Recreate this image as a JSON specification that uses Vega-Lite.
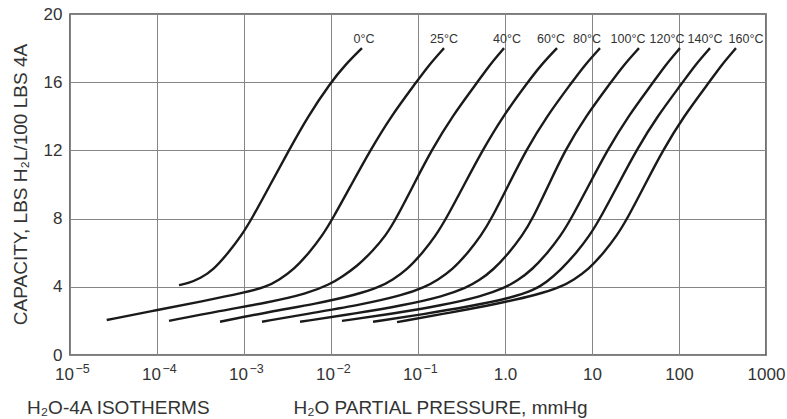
{
  "$schema": "https://vega.github.io/schema/vega-lite/v6.json",
  "width": 696,
  "height": 341,
  "autosize": {"type": "none"},
  "padding": {"left": 70, "top": 14, "right": 21, "bottom": 64},
  "background": "white",
  "config": {
    "font": "Liberation Sans",
    "view": {"stroke": "#505050", "strokeWidth": 1.6},
    "axis": {
      "domain": false,
      "ticks": false,
      "gridColor": "#858585",
      "gridWidth": 1,
      "labelColor": "#333333",
      "titleColor": "#333333",
      "labelFont": "Liberation Sans",
      "titleFont": "Liberation Sans",
      "titleFontWeight": "normal",
      "labelFontSize": 17,
      "titleFontSize": 19,
      "labelOverlap": false
    }
  },
  "title": {
    "text": "H₂O-4A ISOTHERMS",
    "orient": "bottom",
    "anchor": "start",
    "frame": "group",
    "offset": 0,
    "dx": -43,
    "dy": -18,
    "fontSize": 19,
    "fontWeight": "normal",
    "color": "#333333",
    "font": "Liberation Sans"
  },
  "datasets": {
    "isotherms": [
      {"T": "0°C", "p": 0.0001791, "c": 4.1},
      {"T": "0°C", "p": 0.0002239, "c": 4.2},
      {"T": "0°C", "p": 0.0003162, "c": 4.5},
      {"T": "0°C", "p": 0.0004467, "c": 5.0},
      {"T": "0°C", "p": 0.0006607, "c": 6.0},
      {"T": "0°C", "p": 0.0009333, "c": 7.0},
      {"T": "0°C", "p": 0.001233, "c": 8.0},
      {"T": "0°C", "p": 0.002009, "c": 10.0},
      {"T": "0°C", "p": 0.003281, "c": 12.0},
      {"T": "0°C", "p": 0.00542, "c": 14.0},
      {"T": "0°C", "p": 0.01, "c": 16.0},
      {"T": "0°C", "p": 0.01445, "c": 17.0},
      {"T": "0°C", "p": 0.0227, "c": 18.0},

      {"T": "25°C", "p": 0.00002642, "c": 2.05},
      {"T": "25°C", "p": 0.0001, "c": 2.64},
      {"T": "25°C", "p": 0.0003311, "c": 3.15},
      {"T": "25°C", "p": 0.001, "c": 3.65},
      {"T": "25°C", "p": 0.00182, "c": 4.0},
      {"T": "25°C", "p": 0.002512, "c": 4.4},
      {"T": "25°C", "p": 0.003715, "c": 5.0},
      {"T": "25°C", "p": 0.005623, "c": 6.0},
      {"T": "25°C", "p": 0.007943, "c": 7.0},
      {"T": "25°C", "p": 0.010471, "c": 8.0},
      {"T": "25°C", "p": 0.017179, "c": 10.0},
      {"T": "25°C", "p": 0.028249, "c": 12.0},
      {"T": "25°C", "p": 0.048865, "c": 14.0},
      {"T": "25°C", "p": 0.095499, "c": 16.0},
      {"T": "25°C", "p": 0.13305, "c": 17.0},
      {"T": "25°C", "p": 0.19907, "c": 18.0},

      {"T": "40°C", "p": 0.0001374, "c": 2.0},
      {"T": "40°C", "p": 0.0005358, "c": 2.6},
      {"T": "40°C", "p": 0.001774, "c": 3.05},
      {"T": "40°C", "p": 0.005358, "c": 3.6},
      {"T": "40°C", "p": 0.00975, "c": 4.15},
      {"T": "40°C", "p": 0.013459, "c": 4.6},
      {"T": "40°C", "p": 0.019907, "c": 5.2},
      {"T": "40°C", "p": 0.03013, "c": 6.1},
      {"T": "40°C", "p": 0.04256, "c": 7.0},
      {"T": "40°C", "p": 0.056105, "c": 8.0},
      {"T": "40°C", "p": 0.089331, "c": 10.0},
      {"T": "40°C", "p": 0.14256, "c": 12.0},
      {"T": "40°C", "p": 0.2466, "c": 14.0},
      {"T": "40°C", "p": 0.48306, "c": 16.0},
      {"T": "40°C", "p": 0.66222, "c": 17.0},
      {"T": "40°C", "p": 0.97499, "c": 18.0},

      {"T": "60°C", "p": 0.0005297, "c": 1.95},
      {"T": "60°C", "p": 0.002014, "c": 2.55},
      {"T": "60°C", "p": 0.006668, "c": 3.0},
      {"T": "60°C", "p": 0.020137, "c": 3.55},
      {"T": "60°C", "p": 0.036644, "c": 4.0},
      {"T": "60°C", "p": 0.050582, "c": 4.4},
      {"T": "60°C", "p": 0.074817, "c": 5.0},
      {"T": "60°C", "p": 0.11324, "c": 6.0},
      {"T": "60°C", "p": 0.15996, "c": 7.0},
      {"T": "60°C", "p": 0.21086, "c": 8.0},
      {"T": "60°C", "p": 0.34041, "c": 10.0},
      {"T": "60°C", "p": 0.55081, "c": 12.0},
      {"T": "60°C", "p": 0.94406, "c": 14.0},
      {"T": "60°C", "p": 1.8281, "c": 16.0},
      {"T": "60°C", "p": 2.5882, "c": 17.0},
      {"T": "60°C", "p": 3.9628, "c": 18.0},

      {"T": "80°C", "p": 0.001611, "c": 1.95},
      {"T": "80°C", "p": 0.006683, "c": 2.5},
      {"T": "80°C", "p": 0.022131, "c": 2.95},
      {"T": "80°C", "p": 0.066834, "c": 3.5},
      {"T": "80°C", "p": 0.12162, "c": 4.0},
      {"T": "80°C", "p": 0.16788, "c": 4.4},
      {"T": "80°C", "p": 0.24831, "c": 5.0},
      {"T": "80°C", "p": 0.37584, "c": 6.0},
      {"T": "80°C", "p": 0.53088, "c": 7.0},
      {"T": "80°C", "p": 0.69984, "c": 8.0},
      {"T": "80°C", "p": 1.1041, "c": 10.0},
      {"T": "80°C", "p": 1.7418, "c": 12.0},
      {"T": "80°C", "p": 3.013, "c": 14.0},
      {"T": "80°C", "p": 5.8884, "c": 16.0},
      {"T": "80°C", "p": 8.2224, "c": 17.0},
      {"T": "80°C", "p": 12.36, "c": 18.0},

      {"T": "100°C", "p": 0.004406, "c": 1.95},
      {"T": "100°C", "p": 0.019861, "c": 2.45},
      {"T": "100°C", "p": 0.065766, "c": 2.9},
      {"T": "100°C", "p": 0.19861, "c": 3.45},
      {"T": "100°C", "p": 0.36141, "c": 3.95},
      {"T": "100°C", "p": 0.49888, "c": 4.35},
      {"T": "100°C", "p": 0.7379, "c": 5.0},
      {"T": "100°C", "p": 1.1169, "c": 6.0},
      {"T": "100°C", "p": 1.5776, "c": 7.0},
      {"T": "100°C", "p": 2.0797, "c": 8.0},
      {"T": "100°C", "p": 3.1916, "c": 10.0},
      {"T": "100°C", "p": 4.8865, "c": 12.0},
      {"T": "100°C", "p": 8.4528, "c": 14.0},
      {"T": "100°C", "p": 16.52, "c": 16.0},
      {"T": "100°C", "p": 23.067, "c": 17.0},
      {"T": "100°C", "p": 34.674, "c": 18.0},

      {"T": "120°C", "p": 0.013366, "c": 2.0},
      {"T": "120°C", "p": 0.055081, "c": 2.45},
      {"T": "120°C", "p": 0.18239, "c": 2.9},
      {"T": "120°C", "p": 0.55081, "c": 3.45},
      {"T": "120°C", "p": 1.0023, "c": 3.95},
      {"T": "120°C", "p": 1.3836, "c": 4.35},
      {"T": "120°C", "p": 2.0464, "c": 5.0},
      {"T": "120°C", "p": 3.0974, "c": 6.0},
      {"T": "120°C", "p": 4.3752, "c": 7.0},
      {"T": "120°C", "p": 5.7677, "c": 8.0},
      {"T": "120°C", "p": 9.2897, "c": 10.0},
      {"T": "120°C", "p": 14.962, "c": 12.0},
      {"T": "120°C", "p": 25.942, "c": 14.0},
      {"T": "120°C", "p": 50.699, "c": 16.0},
      {"T": "120°C", "p": 69.663, "c": 17.0},
      {"T": "120°C", "p": 102.57, "c": 18.0},

      {"T": "140°C", "p": 0.030409, "c": 1.95},
      {"T": "140°C", "p": 0.11803, "c": 2.4},
      {"T": "140°C", "p": 0.39084, "c": 2.85},
      {"T": "140°C", "p": 1.1803, "c": 3.35},
      {"T": "140°C", "p": 2.1478, "c": 3.8},
      {"T": "140°C", "p": 2.9648, "c": 4.25},
      {"T": "140°C", "p": 4.3853, "c": 5.0},
      {"T": "140°C", "p": 6.6374, "c": 6.0},
      {"T": "140°C", "p": 9.3756, "c": 7.0},
      {"T": "140°C", "p": 12.36, "c": 8.0},
      {"T": "140°C", "p": 20.0, "c": 10.0},
      {"T": "140°C", "p": 32.285, "c": 12.0},
      {"T": "140°C", "p": 56.234, "c": 14.0},
      {"T": "140°C", "p": 110.66, "c": 16.0},
      {"T": "140°C", "p": 152.76, "c": 17.0},
      {"T": "140°C", "p": 226.99, "c": 18.0},

      {"T": "160°C", "p": 0.057412, "c": 1.93},
      {"T": "160°C", "p": 0.24322, "c": 2.5},
      {"T": "160°C", "p": 0.80538, "c": 3.0},
      {"T": "160°C", "p": 2.4322, "c": 3.55},
      {"T": "160°C", "p": 4.4259, "c": 4.0},
      {"T": "160°C", "p": 6.1094, "c": 4.4},
      {"T": "160°C", "p": 9.0365, "c": 5.0},
      {"T": "160°C", "p": 13.677, "c": 6.0},
      {"T": "160°C", "p": 19.32, "c": 7.0},
      {"T": "160°C", "p": 25.468, "c": 8.0},
      {"T": "160°C", "p": 40.738, "c": 10.0},
      {"T": "160°C", "p": 65.163, "c": 12.0},
      {"T": "160°C", "p": 113.24, "c": 14.0},
      {"T": "160°C", "p": 222.84, "c": 16.0},
      {"T": "160°C", "p": 306.2, "c": 17.0},
      {"T": "160°C", "p": 451.86, "c": 18.0}
    ],
    "labels": [
      {"T": "0°C", "p": 0.02393, "c": 18.53},
      {"T": "25°C", "p": 0.1991, "c": 18.53},
      {"T": "40°C", "p": 1.054, "c": 18.53},
      {"T": "60°C", "p": 3.381, "c": 18.53},
      {"T": "80°C", "p": 8.77, "c": 18.53},
      {"T": "100°C", "p": 25.94, "c": 18.53},
      {"T": "120°C", "p": 72.78, "c": 18.53},
      {"T": "140°C", "p": 199.1, "c": 18.53},
      {"T": "160°C", "p": 588.8, "c": 18.53}
    ]
  },
  "resolve": {"axis": {"x": "independent"}},
  "layer": [
    {
      "data": {"name": "isotherms"},
      "mark": {"type": "line", "interpolate": "basis", "color": "#1a1a1a", "strokeWidth": 2.4},
      "encoding": {
        "x": {
          "field": "p",
          "type": "quantitative",
          "scale": {"type": "log", "domain": [0.00001, 1000], "nice": false},
          "axis": {
            "orient": "bottom",
            "grid": true,
            "values": [0.00001, 0.0001, 0.001, 0.01, 0.1, 1, 10, 100, 1000],
            "labelExpr": "datum.value < 0.9 ? '10' : datum.value < 1.1 ? '1.0' : datum.value < 11 ? '10' : datum.value < 110 ? '100' : '1000'",
            "labelOffset": {"condition": {"test": "datum.value < 0.9", "value": -6}, "value": 0},
            "labelPadding": 11,
            "labelBaseline": "top",
            "labelFlush": false,
            "title": "H₂O PARTIAL PRESSURE, mmHg",
            "titleX": 370,
            "titleY": 52,
            "titleAlign": "center",
            "titleBaseline": "middle"
          }
        },
        "y": {
          "field": "c",
          "type": "quantitative",
          "scale": {"domain": [0, 20], "nice": false},
          "axis": {
            "grid": true,
            "values": [0, 4, 8, 12, 16, 20],
            "labelPadding": 8,
            "title": "CAPACITY, LBS H₂L/100 LBS 4A",
            "titleX": -50,
            "titleY": 170,
            "titleAlign": "center",
            "titleBaseline": "middle"
          }
        },
        "detail": {"field": "T"}
      }
    },
    {
      "data": {"name": "labels"},
      "mark": {"type": "text", "align": "center", "baseline": "middle", "fontSize": 12.5, "color": "#333333", "font": "Liberation Sans"},
      "encoding": {
        "x": {
          "field": "p",
          "type": "quantitative",
          "axis": {
            "orient": "bottom",
            "grid": false,
            "values": [0.00001, 0.0001, 0.001, 0.01, 0.1],
            "labelExpr": "datum.value < 0.000011 ? '−5' : datum.value < 0.00011 ? '−4' : datum.value < 0.0011 ? '−3' : datum.value < 0.011 ? '−2' : '−1'",
            "labelAlign": "left",
            "labelOffset": 5,
            "labelPadding": 7,
            "labelBaseline": "top",
            "labelFontSize": 12.5,
            "labelFlush": false,
            "title": null
          }
        },
        "y": {"field": "c", "type": "quantitative"},
        "text": {"field": "T"}
      }
    }
  ]
}
